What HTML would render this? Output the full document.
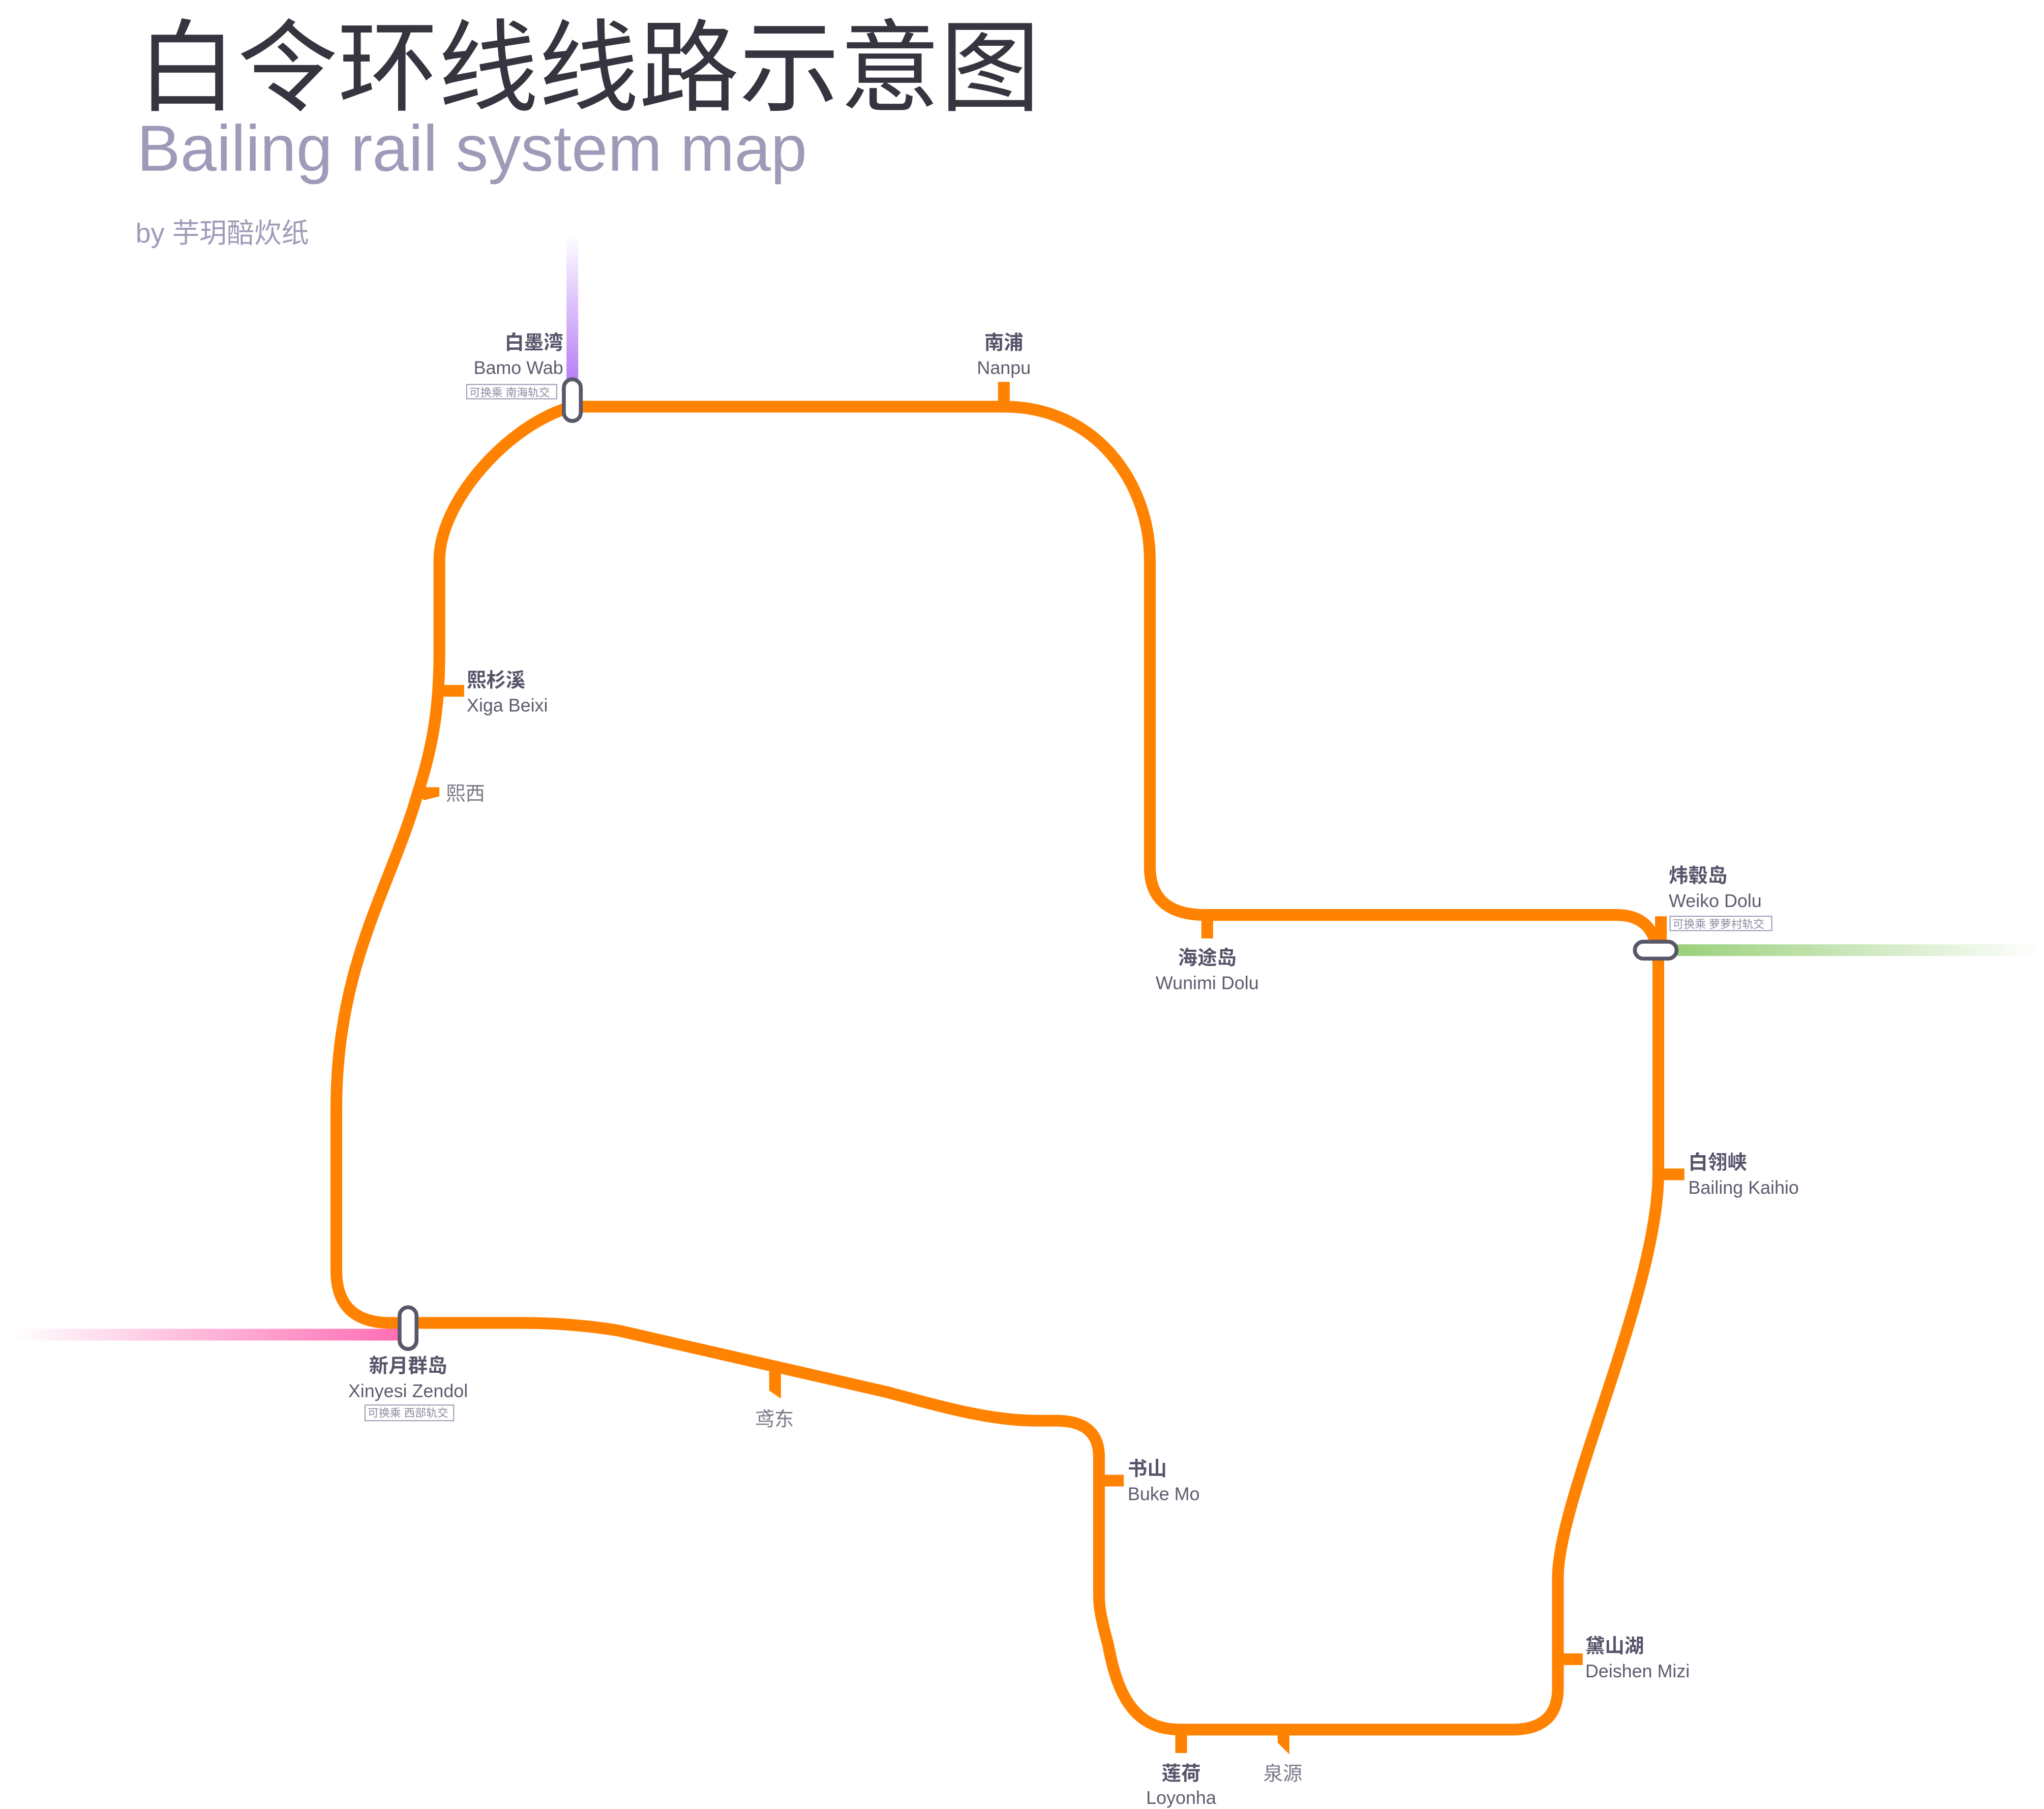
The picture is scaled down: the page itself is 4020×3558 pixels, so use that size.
<!DOCTYPE html>
<html><head><meta charset="utf-8"><style>
html,body{margin:0;padding:0;background:#fff;}
svg{display:block;}
.cn{font-family:"Liberation Sans","Noto Sans CJK SC",sans-serif;font-weight:bold;font-size:15px;fill:#55546a;}
.en{font-family:"Liberation Sans","Noto Sans CJK SC",sans-serif;font-size:14px;fill:#5d5c6e;}
.sm{font-family:"Liberation Sans","Noto Sans CJK SC",sans-serif;font-size:15px;fill:#7a7988;}
.bx{font-family:"Liberation Sans","Noto Sans CJK SC",sans-serif;font-size:8.5px;fill:#8d8ba0;}
</style></head><body>
<svg width="4020" height="3558" viewBox="0 0 1560 1381" preserveAspectRatio="none" xmlns="http://www.w3.org/2000/svg">
<defs>
<linearGradient id="gp" x1="0" y1="0" x2="0" y2="1"><stop offset="0" stop-color="#b57bf7" stop-opacity="0"/><stop offset="1" stop-color="#b57bf7"/></linearGradient>
<linearGradient id="gk" x1="0" y1="0" x2="1" y2="0"><stop offset="0" stop-color="#ff6eb4" stop-opacity="0"/><stop offset="1" stop-color="#ff6eb4"/></linearGradient>
<linearGradient id="gg" x1="0" y1="0" x2="1" y2="0"><stop offset="0" stop-color="#99d07a"/><stop offset="1" stop-color="#99d07a" stop-opacity="0"/></linearGradient>
</defs>
<g transform="scale(0.995)">
<text x="105" y="79" font-family="'Liberation Sans','Noto Sans CJK SC',sans-serif" font-size="77" fill="#35343f">白令环线线路示意图</text>
<text x="105" y="131" font-family="'Liberation Sans','Noto Sans CJK SC',sans-serif" font-size="50" fill="#9d9bb7">Bailing rail system map</text>
<text x="104" y="186" font-family="'Liberation Sans','Noto Sans CJK SC',sans-serif" font-size="21" fill="#9d9bb7">by 芋玥醅炊纸</text>

<rect x="434.5" y="180" width="9" height="115" fill="url(#gp)"/>
<rect x="10" y="1019.5" width="295" height="9" fill="url(#gk)"/>
<rect x="1285" y="724.5" width="280" height="9" fill="url(#gg)"/>

<g fill="none" stroke="#ff8200" stroke-width="9">
<path d="M439,312 L770,312 C840,312 882,370 882,430 L882,665 Q882,702 925,702 L1240,702 Q1272,702 1272,740 L1272,900 C1272,990 1195,1150 1195,1210 L1195,1295 Q1195,1327 1160,1327 L905,1327 C870,1327 857,1300 850,1262 C844,1240 843,1232 843,1225 L843,1118 Q843,1090 810,1090 L795,1090 C760,1090 725,1080 680,1068 L475,1021 C445,1016 420,1015 400,1015 L300,1015 Q258,1015 258,975 L258,850 C258,740 300,680 320,610 C333,570 337,540 337,500 L337,430 C337,385 390,325 439,312 Z"/>
<path d="M770,293 V312 M337,530 H356 M926,702 V720 M1274,703 V722 M1272,901 H1292 M843,1136 H862 M1195,1273 H1214 M906,1327 V1345"/>
</g>
<g fill="#ff8200">
<polygon points="318,604 337,604 337,611 325,614"/>
<polygon points="590,1052 599,1054 599,1073 590,1067"/>
<polygon points="980,1330 989,1330 989,1346 980,1337"/>
</g>

<g fill="#fff" stroke="#595869" stroke-width="3">
<rect x="432.5" y="291" width="13" height="32" rx="6.5"/>
<rect x="306.5" y="1003" width="13" height="32" rx="6.5"/>
<rect x="1254" y="722.5" width="32" height="13" rx="6.5"/>
</g>

<g fill="none" stroke="#9d9bb7" stroke-width="0.8">
<rect x="358" y="295" width="69" height="11"/>
<rect x="1281" y="703" width="78" height="11"/>
<rect x="280" y="1078" width="68" height="12"/>
</g>
<text class="bx" x="360" y="304">可换乘 南海轨交</text>
<text class="bx" x="1283" y="712">可换乘 萝萝村轨交</text>
<text class="bx" x="282" y="1087">可换乘 西部轨交</text>

<text class="cn" x="432" y="268" text-anchor="end">白墨湾</text>
<text class="en" x="432" y="287" text-anchor="end">Bamo Wab</text>
<text class="cn" x="770" y="268" text-anchor="middle">南浦</text>
<text class="en" x="770" y="287" text-anchor="middle">Nanpu</text>
<text class="cn" x="358" y="527">熙杉溪</text>
<text class="en" x="358" y="546">Xiga Beixi</text>
<text class="sm" x="342" y="614">熙西</text>
<text class="cn" x="926" y="740" text-anchor="middle">海途岛</text>
<text class="en" x="926" y="759" text-anchor="middle">Wunimi Dolu</text>
<text class="cn" x="1280" y="677">炜毂岛</text>
<text class="en" x="1280" y="696">Weiko Dolu</text>
<text class="cn" x="1295" y="897">白翎峡</text>
<text class="en" x="1295" y="916">Bailing Kaihio</text>
<text class="cn" x="313" y="1053" text-anchor="middle">新月群岛</text>
<text class="en" x="313" y="1072" text-anchor="middle">Xinyesi Zendol</text>
<text class="sm" x="594" y="1094" text-anchor="middle">鸢东</text>
<text class="cn" x="865" y="1132">书山</text>
<text class="en" x="865" y="1151">Buke Mo</text>
<text class="cn" x="1216" y="1268">黛山湖</text>
<text class="en" x="1216" y="1287">Deishen Mizi</text>
<text class="cn" x="906" y="1366" text-anchor="middle">莲荷</text>
<text class="en" x="906" y="1384" text-anchor="middle">Loyonha</text>
<text class="sm" x="984" y="1366" text-anchor="middle">泉源</text>
</g>
</svg>
</body></html>
